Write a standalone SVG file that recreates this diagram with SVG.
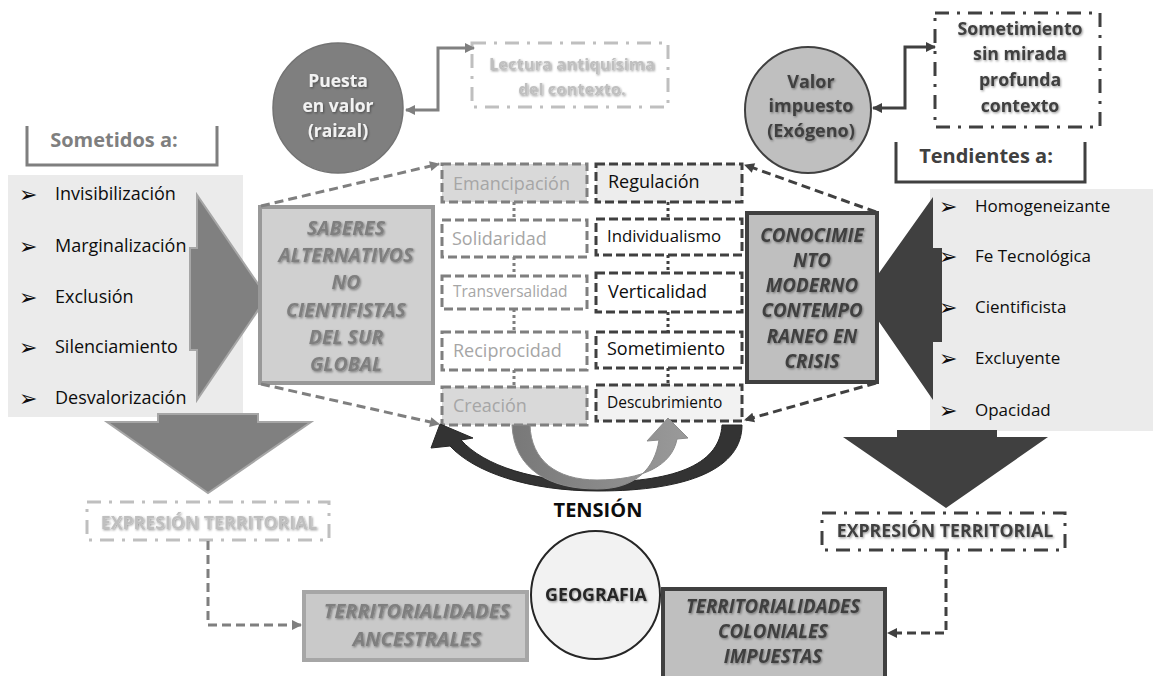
<svg xmlns="http://www.w3.org/2000/svg" width="1153" height="676" viewBox="0 0 1153 676">
<style>
text{font-family:"Open Sans","Liberation Sans",sans-serif}
.b{font-weight:700}
.bi{font-weight:700;font-style:italic}
.sh{filter:url(#ts)}
.li{font-size:18px;fill:#0d0d0d}
.ri{font-size:17px;fill:#0d0d0d}
.bul{font-family:"DejaVu Sans",sans-serif;font-size:22px;fill:#0d0d0d}
.lc{fill:#a6a6a6}
.rc{fill:#0d0d0d}
.lbox{stroke:#7f7f7f;stroke-width:3;stroke-dasharray:9 4}
.rbox{stroke:#404040;stroke-width:3;stroke-dasharray:9 4}
.dot{stroke-width:3;stroke-dasharray:3 3;fill:none}
.cg{fill:none;stroke:#7f7f7f;stroke-width:3;stroke-dasharray:9 5}
.cd{fill:none;stroke:#404040;stroke-width:3;stroke-dasharray:9 5}
.dd{fill:none;stroke-width:3;stroke-dasharray:14 8 3 8}
</style>
<defs>
<filter id="ts" x="-10%" y="-30%" width="130%" height="180%">
<feDropShadow dx="1" dy="1.2" stdDeviation="0.8" flood-color="#000" flood-opacity="0.4"/>
</filter>
<marker id="mg" viewBox="0 0 10 10" refX="9" refY="5" markerWidth="11" markerHeight="10" markerUnits="userSpaceOnUse" orient="auto-start-reverse"><path d="M0,0L10,5L0,10z" fill="#7f7f7f"/></marker>
<marker id="md" viewBox="0 0 10 10" refX="9" refY="5" markerWidth="11" markerHeight="10" markerUnits="userSpaceOnUse" orient="auto-start-reverse"><path d="M0,0L10,5L0,10z" fill="#404040"/></marker>
<linearGradient id="gg" x1="0" y1="0" x2="1" y2="0"><stop offset="0" stop-color="#787878"/><stop offset="1" stop-color="#9a9a9a"/></linearGradient>
</defs>

<g id="sometidos">
<path d="M27,126V165H217V126" fill="none" stroke="#7f7f7f" stroke-width="3"/>
<text x="114" y="147" text-anchor="middle" class="b" font-size="20" fill="#7f7f7f">Sometidos a:</text>
</g>

<g id="lista-izq">
<rect x="8" y="175" width="235" height="242" fill="#ebebeb"/>
<text x="19" y="202" class="bul">➢</text><text x="55" y="200" class="li">Invisibilización</text>
<text x="19" y="254" class="bul">➢</text><text x="55" y="252" class="li">Marginalización</text>
<text x="19" y="305" class="bul">➢</text><text x="55" y="303" class="li">Exclusión</text>
<text x="19" y="355" class="bul">➢</text><text x="55" y="353" class="li">Silenciamiento</text>
<text x="19" y="406" class="bul">➢</text><text x="55" y="404" class="li">Desvalorización</text>
<polygon points="190,248 197,248 197,195 267,297 197,400 197,350 190,350" fill="#808080" stroke="#a6a6a6" stroke-width="2"/>
<polygon points="158,414 258,414 258,422 311,422 208,493 107,422 158,422" fill="#808080" stroke="#a6a6a6" stroke-width="2"/>
</g>

<g id="puesta">
<circle cx="338" cy="108" r="65" fill="#7f7f7f" stroke="#737373" stroke-width="1.5"/>
<text x="338" y="87" text-anchor="middle" class="b sh" font-size="17.5" fill="#f2f2f2">Puesta</text>
<text x="338" y="112" text-anchor="middle" class="b sh" font-size="17.5" fill="#f2f2f2">en valor</text>
<text x="338" y="137" text-anchor="middle" class="b sh" font-size="17.5" fill="#f2f2f2">(raizal)</text>
</g>

<g id="lectura">
<rect x="472" y="43" width="196" height="64" fill="none" stroke="#bfbfbf" class="dd"/>
<text x="572" y="70" text-anchor="middle" class="b sh" font-size="16.5" fill="#bfbfbf">Lectura antiquísima</text>
<text x="572" y="95" text-anchor="middle" class="b sh" font-size="16.5" fill="#bfbfbf">del contexto.</text>
</g>

<g id="valor">
<circle cx="808" cy="110" r="63" fill="#bfbfbf" stroke="#404040" stroke-width="2"/>
<text x="811" y="88" text-anchor="middle" class="b sh" font-size="18" fill="#404040">Valor</text>
<text x="811" y="112" text-anchor="middle" class="b sh" font-size="18" fill="#404040">impuesto</text>
<text x="811" y="137" text-anchor="middle" class="b sh" font-size="18" fill="#404040">(Exógeno)</text>
</g>

<g id="sometimiento">
<rect x="935" y="13" width="165" height="114" fill="none" stroke="#404040" class="dd" stroke-width="3.5"/>
<text x="1020" y="35" text-anchor="middle" class="b sh" font-size="17.7" fill="#404040">Sometimiento</text>
<text x="1020" y="60" text-anchor="middle" class="b sh" font-size="17.7" fill="#404040">sin mirada</text>
<text x="1020" y="86" text-anchor="middle" class="b sh" font-size="17.7" fill="#404040">profunda</text>
<text x="1020" y="112" text-anchor="middle" class="b sh" font-size="17.7" fill="#404040">contexto</text>
</g>

<g id="tendientes">
<path d="M896,142V182H1085V142" fill="none" stroke="#404040" stroke-width="3"/>
<text x="986" y="163" text-anchor="middle" class="b" font-size="20" fill="#404040">Tendientes a:</text>
</g>

<g id="lista-der">
<rect x="930" y="189" width="223" height="242" fill="#ebebeb"/>
<polygon points="942,248 933,248 933,197 862,297 933,400 933,342 942,342" fill="#404040"/>
<text x="939" y="214" class="bul">➢</text><text x="975" y="212" class="ri">Homogeneizante</text>
<text x="939" y="264" class="bul">➢</text><text x="975" y="262" class="ri">Fe Tecnológica</text>
<text x="939" y="315" class="bul">➢</text><text x="975" y="313" class="ri">Cientificista</text>
<text x="939" y="366" class="bul">➢</text><text x="975" y="364" class="ri">Excluyente</text>
<text x="939" y="418" class="bul">➢</text><text x="975" y="416" class="ri">Opacidad</text>
<polygon points="897,430 997,430 997,437 1048,437 946,508 843,437 897,437" fill="#404040"/>
</g>

<g id="saberes">
<rect x="260" y="207" width="173" height="176" fill="#d0d0d0" stroke="#999999" stroke-width="4"/>
<g class="bi sh" font-size="19.5" fill="#7f7f7f" text-anchor="middle">
<text x="346" y="235">SABERES</text>
<text x="346" y="262">ALTERNATIVOS</text>
<text x="346" y="289">NO</text>
<text x="346" y="317">CIENTIFISTAS</text>
<text x="346" y="344">DEL SUR</text>
<text x="346" y="371">GLOBAL</text>
</g>
</g>

<g id="conocimiento">
<rect x="747" y="213" width="130" height="169" fill="#bfbfbf" stroke="#404040" stroke-width="4"/>
<g class="bi sh" font-size="18.8" fill="#404040" text-anchor="middle">
<text x="812" y="242">CONOCIMIE</text>
<text x="812" y="267">NTO</text>
<text x="812" y="292">MODERNO</text>
<text x="812" y="317">CONTEMPO</text>
<text x="812" y="343">RANEO EN</text>
<text x="812" y="368">CRISIS</text>
</g>
</g>

<g id="col-izq">
<g id="emancipacion"><rect x="442" y="164" width="145" height="38" fill="#d9d9d9" class="lbox"/><text x="453" y="190" class="lc" font-size="18">Emancipación</text></g>
<g id="solidaridad"><rect x="442" y="220" width="145" height="37" fill="#ffffff" class="lbox"/><text x="452" y="245" class="lc" font-size="18">Solidaridad</text></g>
<g id="transversalidad"><rect x="442" y="276" width="145" height="33" fill="#ffffff" class="lbox"/><text x="453" y="297" class="lc" font-size="15.5">Transversalidad</text></g>
<g id="reciprocidad"><rect x="442" y="332" width="145" height="38" fill="#ffffff" class="lbox"/><text x="453" y="357" class="lc" font-size="18">Reciprocidad</text></g>
<g id="creacion"><rect x="442" y="387" width="145" height="38" fill="#d9d9d9" class="lbox"/><text x="453" y="412" class="lc" font-size="18">Creación</text></g>
</g>

<g id="col-der">
<g id="regulacion"><rect x="596" y="164" width="146" height="38" fill="#ededed" class="rbox"/><text x="608" y="188" class="rc" font-size="18">Regulación</text></g>
<g id="individualismo"><rect x="596" y="219" width="146" height="36" fill="#ffffff" class="rbox"/><text x="607" y="242" class="rc" font-size="16.8">Individualismo</text></g>
<g id="verticalidad"><rect x="596" y="273" width="146" height="39" fill="#ffffff" class="rbox"/><text x="608" y="298" class="rc" font-size="18">Verticalidad</text></g>
<g id="sometimiento-c"><rect x="596" y="332" width="146" height="36" fill="#ffffff" class="rbox"/><text x="607" y="355" class="rc" font-size="18">Sometimiento</text></g>
<g id="descubrimiento"><rect x="596" y="385" width="146" height="36" fill="#f2f2f2" class="rbox"/><text x="607" y="408" class="rc" font-size="15.5">Descubrimiento</text></g>
</g>

<g id="tension">
<path d="M742,425 C742,468 690,491 598,491 C528,491 474,472 450,446 L431,448 L440,424 L473,438 L461,440 C484,466 535,482 598,482 C680,482 720,462 722,425 Z" fill="#333333" stroke="#262626" stroke-width="1"/>
<path d="M512,425 C514,470 550,489 597,489 C636,489 655,468 659,440 L647,441 L668,418 L688,438 L677,439 C672,466 642,480 597,480 C556,480 531,460 530,425 Z" fill="url(#gg)" stroke="#8c8c8c" stroke-width="1"/>
<text x="598" y="517" text-anchor="middle" class="b" font-size="20" fill="#0d0d0d">TENSIÓN</text>
</g>

<g id="expresion-izq">
<rect x="87" y="502" width="242" height="38" fill="none" stroke="#bfbfbf" class="dd"/>
<text x="209" y="529" text-anchor="middle" class="b sh" font-size="17.7" fill="#bfbfbf">EXPRESIÓN TERRITORIAL</text>
</g>

<g id="expresion-der">
<rect x="822" y="513" width="243" height="37" fill="none" stroke="#404040" class="dd"/>
<text x="945" y="537" text-anchor="middle" class="b sh" font-size="17.7" fill="#404040">EXPRESIÓN TERRITORIAL</text>
</g>

<g id="geografia">
<ellipse cx="595.5" cy="595" rx="64.5" ry="64" fill="#f2f2f2" stroke="#262626" stroke-width="2"/>
<text x="596" y="601" text-anchor="middle" class="b sh" font-size="17.8" fill="#262626">GEOGRAFIA</text>
</g>

<g id="ancestrales">
<rect x="304" y="592" width="223" height="68" fill="#c9c9c9" stroke="#a6a6a6" stroke-width="4"/>
<text x="417" y="618" text-anchor="middle" class="bi sh" font-size="20" fill="#7f7f7f">TERRITORIALIDADES</text>
<text x="417" y="646" text-anchor="middle" class="bi sh" font-size="20" fill="#7f7f7f">ANCESTRALES</text>
</g>

<g id="coloniales">
<rect x="663" y="589" width="222" height="92" fill="#bfbfbf" stroke="#404040" stroke-width="4"/>
<text x="773" y="613" text-anchor="middle" class="bi sh" font-size="18.7" fill="#404040">TERRITORIALIDADES</text>
<text x="773" y="638" text-anchor="middle" class="bi sh" font-size="18.7" fill="#404040">COLONIALES</text>
<text x="773" y="663" text-anchor="middle" class="bi sh" font-size="18.7" fill="#404040">IMPUESTAS</text>
</g>

<g id="conectores">
<path d="M474,48H438V110H406" fill="none" stroke="#808080" stroke-width="3" marker-start="url(#mg)" marker-end="url(#mg)"/>
<path d="M935,47H905V108H873" fill="none" stroke="#404040" stroke-width="3" marker-start="url(#md)" marker-end="url(#md)"/>
<path d="M261,206L439,164" class="cg" marker-end="url(#mg)"/>
<path d="M261,384L439,424" class="cg" marker-end="url(#mg)"/>
<path d="M876,212L745,165" class="cd" marker-end="url(#md)"/>
<path d="M876,383L745,420" class="cd" marker-end="url(#md)"/>
<path d="M514,202V220M514,257V276M514,309V332M514,370V387" class="dot" stroke="#7f7f7f"/>
<path d="M668,202V219M668,255V273M668,312V332M668,368V385" class="dot" stroke="#404040"/>
<path d="M208,541V625H301" class="cg" marker-end="url(#mg)"/>
<path d="M946,551V633H888" class="cd" marker-end="url(#md)"/>
</g>
</svg>
